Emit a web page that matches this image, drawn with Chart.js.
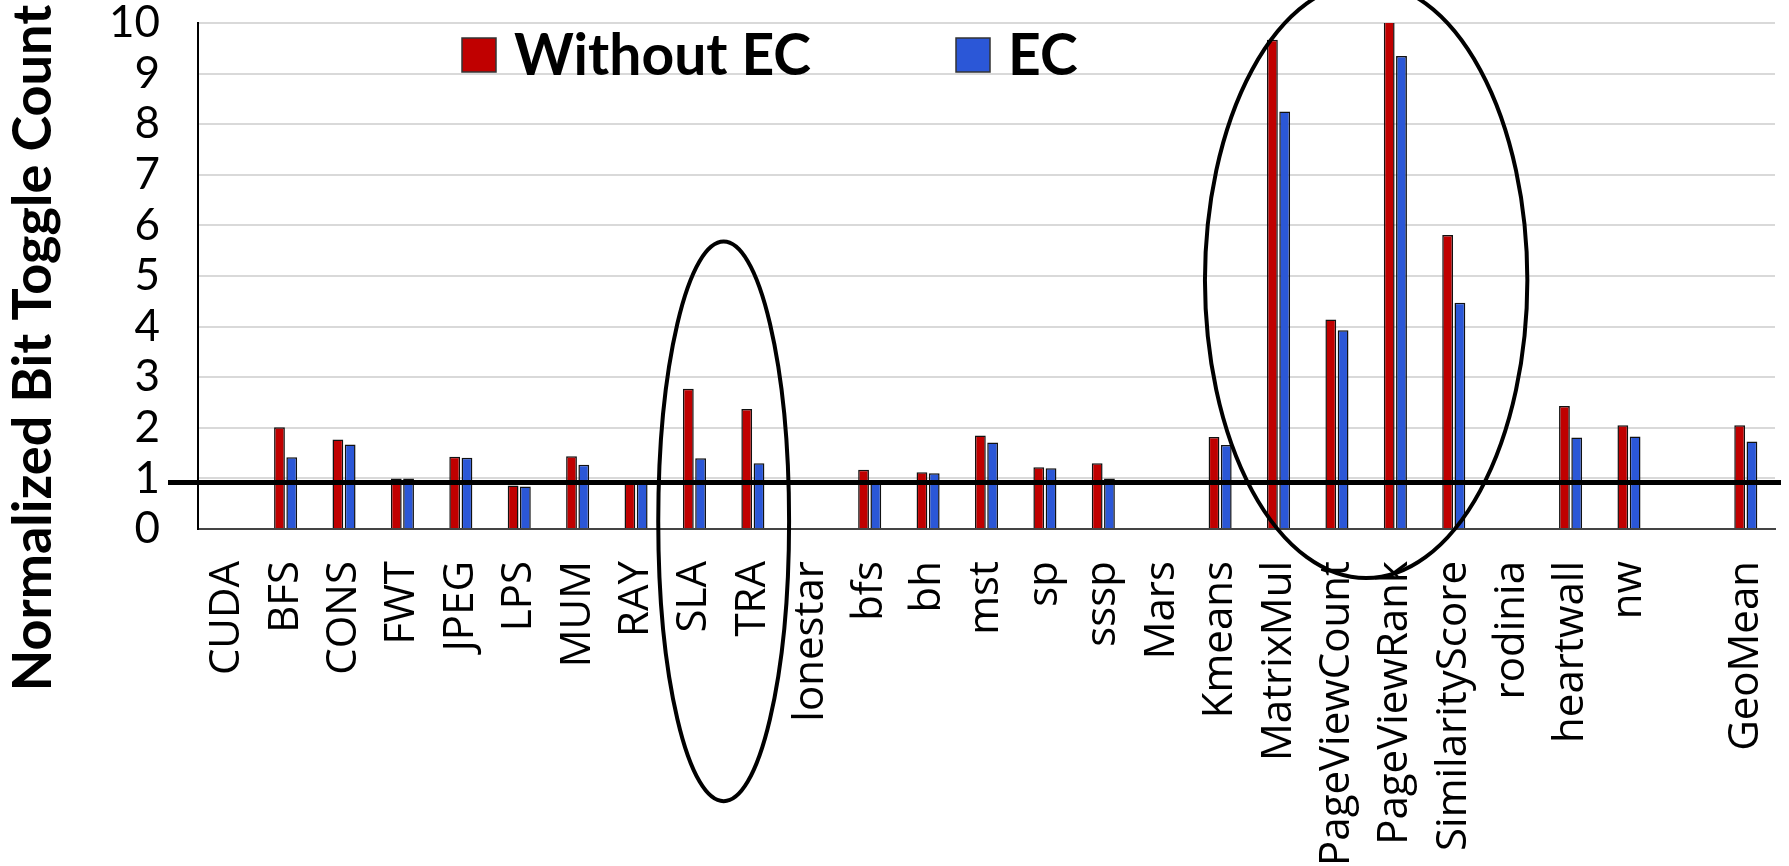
<!DOCTYPE html>
<html>
<head>
<meta charset="utf-8">
<script src="https://cdn.jsdelivr.net/npm/chart.js@4.4.1/dist/chart.umd.min.js"></script>
<style>
  body { margin: 0; background: #fff; }
</style>
</head>
<body>
<canvas id="toggle-chart" width="1789" height="866"></canvas>
<script>
// Normalized bit toggle count, with and without EC

var benchmarks = ['CUDA', 'BFS', 'CONS', 'FWT', 'JPEG', 'LPS', 'MUM', 'RAY', 'SLA', 'TRA',
  'lonestar', 'bfs', 'bh', 'mst', 'sp', 'sssp', 'Mars', 'Kmeans', 'MatrixMul',
  'PageViewCount', 'PageViewRank', 'SimilarityScore', 'rodinia', 'heartwall', 'nw', '', 'GeoMean'];

var withoutEC = [null, 2.01, 1.77, 1.00, 1.43, 0.86, 1.44, 0.93, 2.77, 2.37,
  null, 1.17, 1.12, 1.85, 1.22, 1.30, null, 1.82, 9.67,
  4.14, 10.1, 5.81, null, 2.43, 2.05, null, 2.05];

var withEC = [null, 1.42, 1.67, 1.00, 1.41, 0.84, 1.27, 0.93, 1.40, 1.30,
  null, 0.95, 1.10, 1.71, 1.20, 1.00, null, 1.66, 8.25,
  3.93, 9.35, 4.47, null, 1.81, 1.83, null, 1.73];

var yTicks = [0, 1, 2, 3, 4, 5, 6, 7, 8, 9, 10];

// the thick reference line sits just under 1
var referenceValue = 0.92;

// circled groups (value range and half width in categories)
var circled = [
  { from: 'SLA', to: 'TRA', top: 5.68, bottom: -5.38, halfWidth: 1.12 },
  { from: 'PageViewCount', to: 'PageViewRank', top: 10.8, bottom: -0.97, halfWidth: 2.76 }
];

var RED = '#C00000';
var BLUE = '#2B57D7';

var annotations = {
  id: 'annotations',
  afterDatasetsDraw: function(chart) {
    var ctx = chart.ctx, x = chart.scales.x, y = chart.scales.y, area = chart.chartArea;
    var step = (area.right - area.left) / benchmarks.length;
    ctx.save();
    ctx.strokeStyle = '#000';

    // reference line
    ctx.lineWidth = 5;
    var yRef = y.getPixelForValue(referenceValue);
    ctx.beginPath();
    ctx.moveTo(area.left - 30, yRef);
    ctx.lineTo(area.right + 6, yRef);
    ctx.stroke();

    // ellipses
    ctx.lineWidth = 4;
    circled.forEach(function(c) {
      var cx = (x.getPixelForValue(benchmarks.indexOf(c.from)) + x.getPixelForValue(benchmarks.indexOf(c.to))) / 2;
      var top = y.getPixelForValue(c.top);
      var bottom = y.getPixelForValue(c.bottom);
      ctx.beginPath();
      ctx.ellipse(cx, (top + bottom) / 2, c.halfWidth * step, (bottom - top) / 2, 0, 0, 2 * Math.PI);
      ctx.stroke();
    });
    ctx.restore();
  }
};

// legend inside the plot + rotated y title
var labelsPlugin = {
  id: 'labels',
  afterDraw: function(chart) {
    var ctx = chart.ctx;
    ctx.save();

    var legendX = [462, 956];
    chart.data.datasets.forEach(function(ds, i) {
      ctx.fillStyle = ds.backgroundColor;
      ctx.fillRect(legendX[i], 38, 34, 34);
      ctx.strokeStyle = '#333';
      ctx.lineWidth = 1.5;
      ctx.strokeRect(legendX[i], 38, 34, 34);
      ctx.fillStyle = '#000';
      ctx.font = 'bold 57px Lato';
      ctx.textBaseline = 'middle';
      ctx.textAlign = 'left';
      ctx.fillText(ds.label, legendX[i] + 52, 57);
    });

    ctx.translate(34, 348);
    ctx.rotate(-Math.PI / 2);
    ctx.font = 'bold 54px Lato';
    ctx.textAlign = 'center';
    ctx.textBaseline = 'middle';
    ctx.fillStyle = '#000';
    ctx.fillText('Normalized Bit Toggle Count', 0, 0);
    ctx.restore();
  }
};

var ctx = document.getElementById('toggle-chart').getContext('2d');
var chart = new Chart(ctx, {
  type: 'bar',
  data: {
    labels: benchmarks,
    datasets: [{
      label: 'Without EC',
      backgroundColor: RED,
      borderColor: '#111',
      borderWidth: 1.5,
      data: withoutEC
    },
    {
      label: 'EC',
      backgroundColor: BLUE,
      borderColor: '#111',
      borderWidth: 1.5,
      data: withEC
    }]
  },
  options: {
    responsive: false,
    animation: false,
    layout: { padding: { top: 23, right: 14, bottom: 0, left: 0 } },
    datasets: {
      bar: { categoryPercentage: 0.42, barPercentage: 0.88 }
    },
    plugins: {
      legend: { display: false },
      tooltip: { enabled: false }
    },
    scales: {
      x: {
        grid: { display: false },
        border: { color: '#444', width: 2 },
        ticks: {
          autoSkip: false,
          minRotation: 90,
          maxRotation: 90,
          padding: 24,
          color: '#000',
          font: { family: 'Open Sans', size: 42 }
        },
        afterFit: function(scale) {
          scale.height = 337;
          scale.paddingLeft = 0;
          scale.paddingRight = 0;
        }
      },
      y: {
        min: 0,
        max: 10,
        afterBuildTicks: function(scale) {
          scale.ticks = yTicks.map(function(v) { return { value: v }; });
        },
        grid: { color: '#d9d9d9', lineWidth: 2, drawTicks: false },
        border: { color: '#000', width: 2 },
        ticks: {
          autoSkip: false,
          padding: 38,
          color: '#000',
          font: { family: 'Lato', size: 44 }
        },
        afterFit: function(scale) {
          scale.width = 198;
          scale.paddingTop = 0;
          scale.paddingBottom = 0;
        }
      }
    }
  },
  plugins: [annotations, labelsPlugin]
});
</script>
</body>
</html>
